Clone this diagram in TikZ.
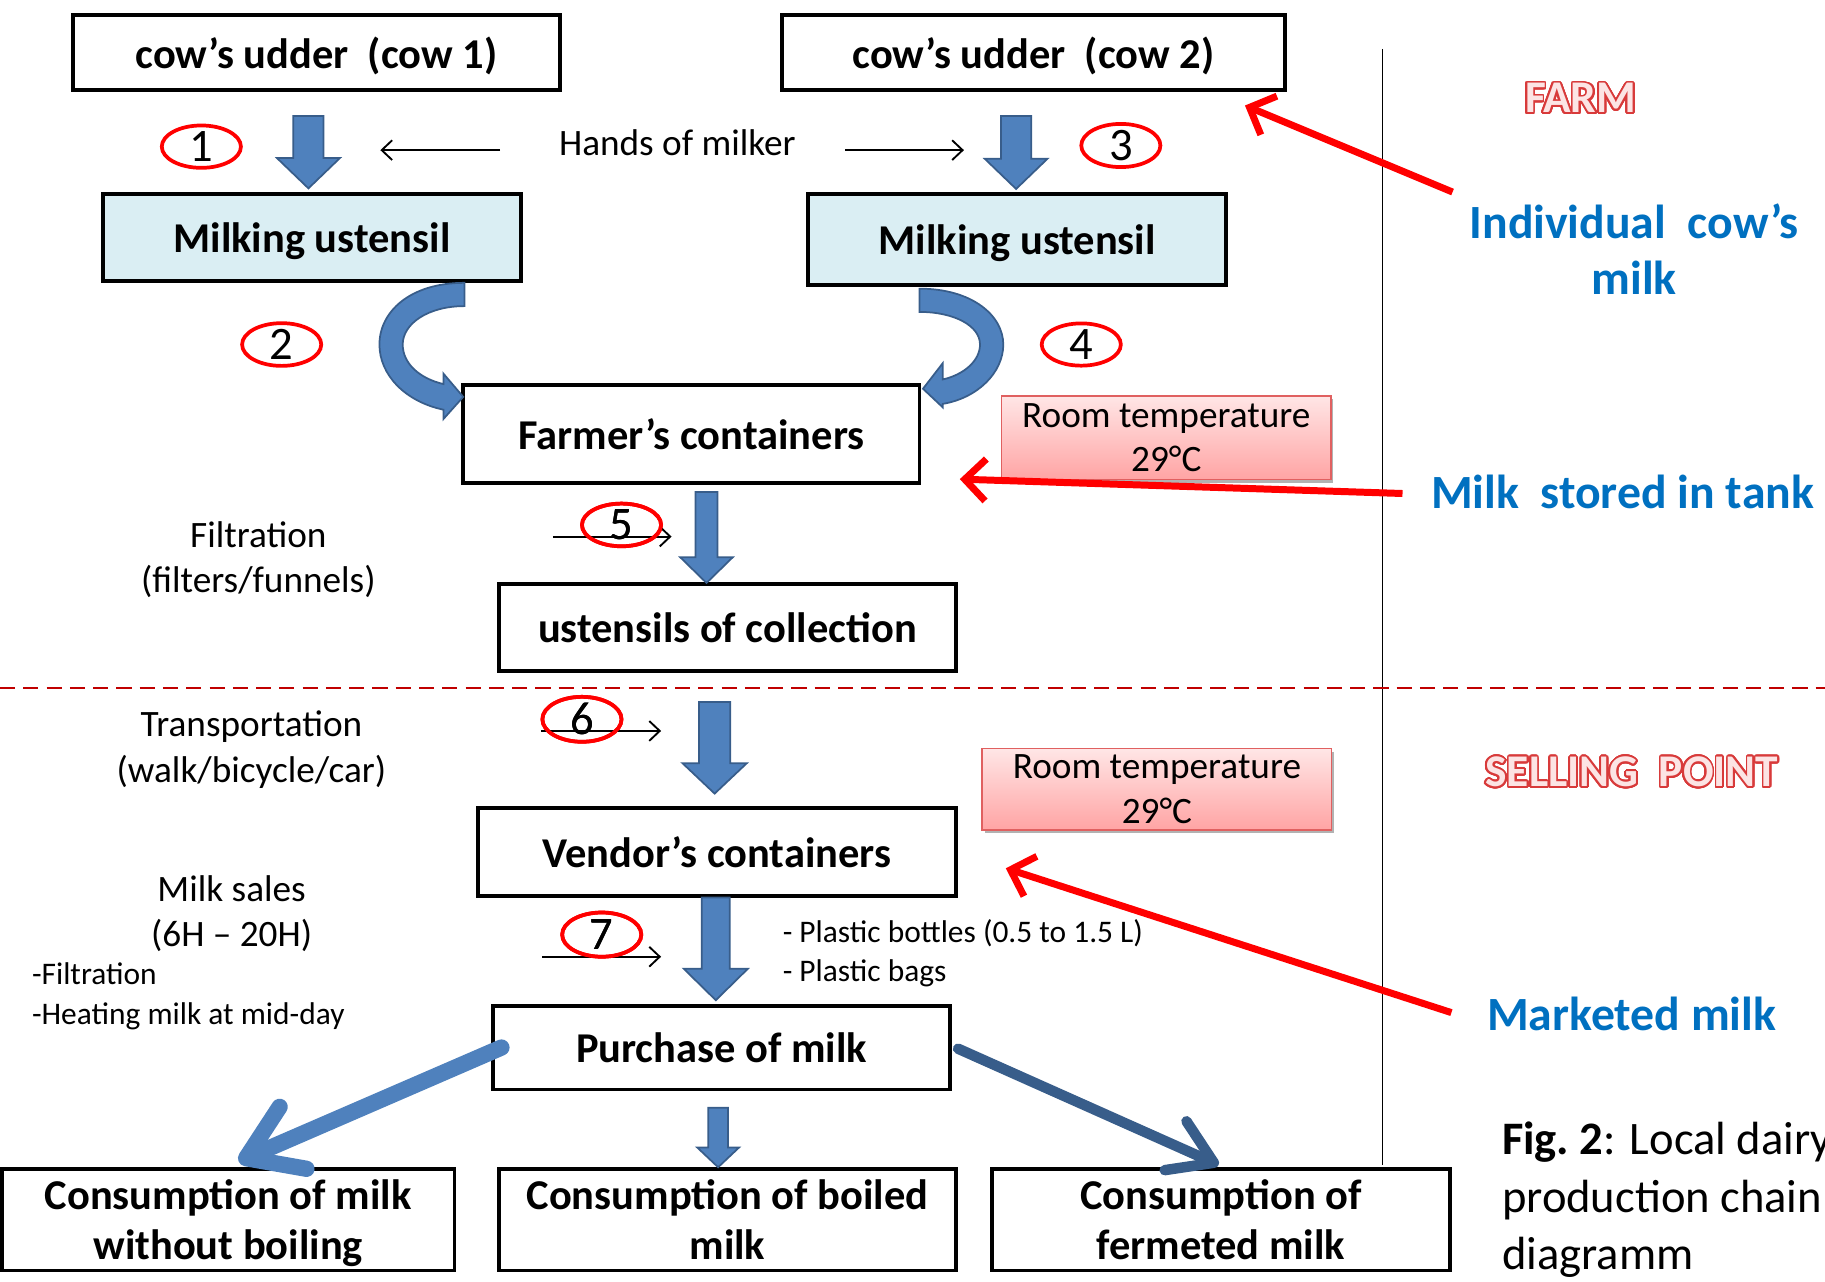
\documentclass[tikz,border=0pt]{standalone}
\usepackage{fontspec}
\setmainfont{Carlito}
\usepackage{contour}
\usetikzlibrary{arrows.meta,shapes.geometric,shadows,calc,positioning}

\definecolor{paleblue}{HTML}{DAEEF3}
\definecolor{arrowblue}{HTML}{4F81BD}
\definecolor{arrowedge}{HTML}{385D8A}
\definecolor{sideblue}{HTML}{0070C0}
\definecolor{roomline}{HTML}{E06060}
\definecolor{roomtop}{HTML}{FFE6E6}
\definecolor{roombot}{HTML}{FFA4A4}
\definecolor{dashred}{HTML}{C00000}
\definecolor{farmred}{HTML}{D83A3A}
\definecolor{farmfill}{HTML}{FCE4E4}

\contourlength{1.5pt}
\contournumber{32}

% block arrow pointing down: start, tip, shaft half, head half, head length
\newcommand{\blockdown}[5]{%
  \draw[fat] let \p1=(#1), \p2=(#2) in
    (\x1-#3,\y1) -- (\x1+#3,\y1) -- (\x1+#3,\y2+#5) -- (\x1+#4,\y2+#5)
    -- (\x1,\y2) -- (\x1-#4,\y2+#5) -- (\x1-#3,\y2+#5) -- cycle;}

\tikzset{
  box/.style={draw, line width=3.3pt, align=center, inner sep=0pt, text depth=0pt,
    font=\bfseries\fontsize{36.5}{43}\selectfont},
  ubox/.style={box, fill=paleblue},
  roombox/.style={draw=roomline, line width=1.5pt, top color=roomtop, bottom color=roombot,
    align=center, inner sep=0pt, font=\fontsize{32}{38}\selectfont,
    drop shadow={shadow xshift=2pt, shadow yshift=-3pt, fill=black, opacity=.3}},
  note/.style={align=center, font=\fontsize{32}{39}\selectfont},
  list/.style={align=left, anchor=west, font=\fontsize{27}{34}\selectfont},
  num/.style={ellipse, draw=red, line width=3.2pt, inner sep=0pt,
    minimum width=68pt, minimum height=28pt, font=\fontsize{40}{40}\selectfont},
  side/.style={align=center, text=sideblue, font=\bfseries\fontsize{41}{48}\selectfont},
  place/.style={text=farmfill, font=\bfseries\fontsize{39}{39}\selectfont},
  fat/.style={fill=arrowblue, draw=arrowedge, line width=1.5pt},
  hand/.style={line width=1.6pt, -{Straight Barb[length=9pt,width=17pt]}},
  point/.style={red, line width=6pt, -{Straight Barb[length=18pt,width=36pt]}},
  branch/.style={line width=14pt, line cap=round, arrowblue,
    -{Straight Barb[length=44pt,width=58pt,round]}},
}

\begin{document}
\begin{tikzpicture}[x=1pt, y=-1pt]
\useasboundingbox (0,0) rectangle (1568,1101);

% farm part
\node[box, minimum width=418pt, minimum height=64pt] (cow1) at (272,45) {cow’s udder\ \ (cow 1)};
\node[box, minimum width=432pt, minimum height=64pt] (cow2) at (888,45) {cow’s udder\ \ (cow 2)};
\node[ubox, minimum width=359pt, minimum height=75pt] (milk1) at (268,204) {Milking ustensil};
\node[ubox, minimum width=359pt, minimum height=78pt] (milk2) at (874,206) {Milking ustensil};
\node[box, minimum width=392pt, minimum height=84pt] (farmer) at (594,373) {Farmer’s containers};
\node[roombox, minimum width=283pt, minimum height=72pt] (room1) at (1002,376) {Room temperature\\29°C};
\node[box, minimum width=393pt, minimum height=75pt] (coll) at (625,539) {ustensils of collection};

\node[note] (hands) at (582,123) {Hands of milker};
\node[note] (filt) at (222,481) {Filtration\\(filters/funnels)};

\node[num] (n1) at (173,126) {1};
\node[num] (n2) at (242,296) {2};
\node[num] (n3) at (963,125) {3};
\node[num] (n4) at (929,296) {4};
\node[num] (n5) at (534,451) {5};

% selling point part
\node[box, minimum width=411pt, minimum height=75pt] (vendor) at (616,732) {Vendor’s containers};
\node[roombox, minimum width=300pt, minimum height=70pt] (room2) at (994,678) {Room temperature\\29°C};
\node[box, minimum width=393pt, minimum height=72pt] (purchase) at (620,900) {Purchase of milk};
\node[box, minimum width=389pt, minimum height=87pt] (cons1) at (196,1048) {Consumption of milk\\without boiling};
\node[box, minimum width=393pt, minimum height=87pt] (cons2) at (625,1048) {Consumption of boiled\\milk};
\node[box, minimum width=394pt, minimum height=87pt] (cons3) at (1049,1048) {Consumption of\\fermeted milk};

\node[note] (trans) at (216,644) {Transportation\\(walk/bicycle/car)};
\node[note] (sales) at (199,785) {Milk sales\\(6H -- 20H)};
\node[list] (care) at (24,856) {-Filtration\\-Heating milk at mid-day};
\node[list] (pack) at (669,819) {- Plastic bottles (0.5 to 1.5 L)\\- Plastic bags};

\node[num] (n6) at (500,618) {6};
\node[num, minimum height=38pt] (n7) at (517,803) {7};

% right column
\node[place] (farm) at (1358,85) {\contour{farmred}{FARM}};
\node[place] (sell) at (1402,664) {\contour{farmred}{SELLING\ \ POINT}};
\node[side] (indiv) at (1404,214) {Individual\ \ cow’s\\milk};
\node[side] (tank) at (1394,423) {Milk\ \ stored in tank};
\node[side] (market) at (1402,871) {Marketed milk};
\node[align=left, anchor=west, font=\fontsize{40}{49.5}\selectfont] (fig) at (1287,1031)
  {{\bfseries Fig.\ 2}: Local dairy\\production chain\\diagramm};

\coordinate (tIndiv) at (1248,165);
\coordinate (tTank) at (1205,424);
\coordinate (tMarket) at (1247,870);

\draw[line width=1.3pt] (1188,42) -- (1188,1001);
\draw[dashred, line width=1.6pt, dash pattern=on 13pt off 7pt] (0,591) -- (1568,591);

% block arrows
\blockdown{[shift={(-7,21)}]cow1.south}{[shift={(0,-3)}]milk1.north}{13pt}{27pt}{26pt}
\blockdown{[shift={(-15,21)}]cow2.south}{[shift={(0,-3)}]milk2.north}{13pt}{27pt}{26pt}
\blockdown{[shift={(13,6)}]farmer.south}{[shift={(0,1)}]coll.north}{9.5pt}{22.5pt}{22pt}
\blockdown{[shift={(-11,25)}]coll.south}{[shift={(0,-11)}]vendor.north}{13.5pt}{27.5pt}{26pt}
\blockdown{[shift={(-1,0)}]vendor.south}{[shift={(0,-3)}]purchase.north}{12pt}{27.5pt}{27pt}
\blockdown{[shift={(-3,14)}]purchase.south}{cons2.north}{8.5pt}{18pt}{17pt}

% curved arrows into the farmer's containers
\draw[fat] (399,243) .. controls (352,243) and (326,268) .. (326,296)
  .. controls (326,322) and (348,345) .. (381,352) -- (381,360) -- (398,341) -- (381,321) -- (381,330)
  .. controls (360,325) and (346,312) .. (346,296) .. controls (346,278) and (368,263) .. (399,263) -- cycle;
\draw[fat] (790,248) .. controls (835,248) and (862,271) .. (862,296)
  .. controls (862,320) and (840,342) .. (810,347) -- (810,350) -- (793,334) -- (810,312) -- (810,326)
  .. controls (828,322) and (842,310) .. (842,296) .. controls (842,280) and (820,268) .. (790,268) -- cycle;

% thin arrows
\draw[hand] ([shift={(-47,6)}]hands.west) -- ([shift={(-150,6)}]hands.west);
\draw[hand] ([shift={(39,6)}]hands.east) -- ([shift={(141,6)}]hands.east);
\draw[hand] ([shift={(-59,10)}]n5.center) -- ([shift={(43,10)}]n5.center);
\draw[hand] ([shift={(-35,10)}]n6.center) -- ([shift={(68,10)}]n6.center);
\draw[hand] ([shift={(-51,19)}]n7.center) -- ([shift={(51,19)}]n7.center);
\node[num] at (n5) {5};
\node[num] at (n6) {6};
\node[num, minimum height=38pt] at (n7) {7};

% branches to consumption
\draw[branch] ([shift={(9,0)}]purchase.west) -- ([shift={(9,-5)}]cons1.north);
\draw[branch, arrowedge, line width=9pt, -{Straight Barb[length=36pt,width=46pt,round]}]
  ([shift={(5,1)}]purchase.east) -- ([shift={(-2,-2)}]cons3.north);

% red pointers
\draw[point] (tIndiv) -- ([shift={(-36,12)}]cow2.south east);
\draw[point] (tTank) -- ([shift={(33,-5)}]farmer.south east);
\draw[point] (tMarket) -- ([shift={(41,14)}]vendor.east);

\end{tikzpicture}
\end{document}
